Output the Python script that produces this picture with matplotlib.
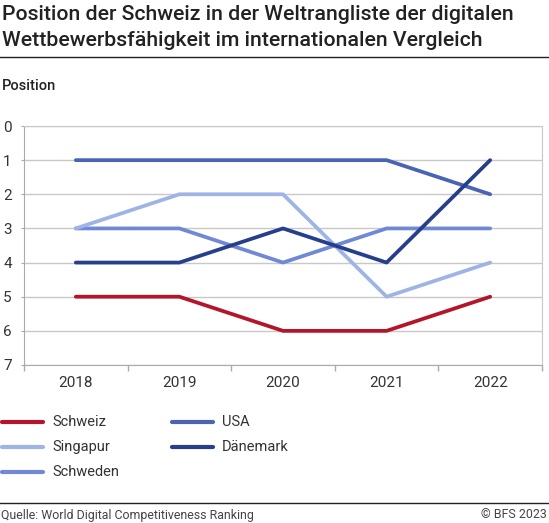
import matplotlib.pyplot as plt
from matplotlib.lines import Line2D

years = ["2018", "2019", "2020", "2021", "2022"]
schweiz = [5, 5, 6, 6, 5]
usa = [1, 1, 1, 1, 2]
singapur = [3, 2, 2, 5, 4]
daenemark = [4, 4, 3, 4, 1]
schweden = [3, 3, 4, 3, 3]

series = [
    ("Schweiz", schweiz, "#b5152b"),
    ("USA", usa, "#4a63b5"),
    ("Singapur", singapur, "#9fb4e6"),
    ("Dänemark", daenemark, "#263f8c"),
    ("Schweden", schweden, "#7088d6"),
]

plt.rcParams['font.family'] = ['Roboto', 'DejaVu Sans']

W, H = 549, 523
fig = plt.figure(figsize=(W / 100, H / 100), dpi=100)
ax = fig.add_axes([24 / W, 1 - 365 / H, (542 - 24) / W, (365 - 126) / H])

x = list(range(len(years)))
# draw in an order so that dark lines sit above light ones
order = ["Schweden", "Singapur", "USA", "Dänemark", "Schweiz"]
lookup = {name: (vals, col) for name, vals, col in series}
for name in order:
    vals, col = lookup[name]
    ax.plot(x, vals, color=col, linewidth=2.7, solid_capstyle='round', zorder=3)

ax.set_xlim(-0.5, len(years) - 0.5)
ax.set_ylim(7, 0)
ax.set_yticks(range(0, 8))
ax.set_xticks(x)
ax.set_xticklabels(years)
ax.set_xticks([i - 0.5 for i in range(len(years) + 1)], minor=True)
ax.tick_params(axis='x', which='major', length=0, pad=8, labelsize=11, labelcolor='#333333')
ax.tick_params(axis='x', which='minor', length=4, color='#aaaaaa', width=1)
ax.tick_params(axis='y', length=2, color='#aaaaaa', pad=13, labelsize=11, labelcolor='#333333')
for lbl in ax.get_yticklabels():
    lbl.set_horizontalalignment('left')
ax.grid(axis='y', color='#c8c8c8', linewidth=1, zorder=0)
for side in ['left', 'bottom']:
    ax.spines[side].set_color('#aaaaaa')
for side in ['right', 'top']:
    ax.spines[side].set_color('#c8c8c8')

# title, subtitle and footer
fig.text(2 / W, 1 - 15 / H, "Position der Schweiz in der Weltrangliste der digitalen",
         fontsize=15.3, fontweight='medium', color='#222222', va='center')
fig.text(2 / W, 1 - 41 / H, "Wettbewerbsfähigkeit im internationalen Vergleich",
         fontsize=15.3, fontweight='medium', color='#222222', va='center')
fig.add_artist(Line2D([0, 1], [1 - 57 / H, 1 - 57 / H], color='#222222', linewidth=1))
fig.text(2 / W, 1 - 86 / H, "Position", fontsize=10.5, fontweight='medium', color='#222222', va='center')

# legend
legend_pos = {
    "Schweiz": (2, 422), "Singapur": (2, 447), "Schweden": (2, 472),
    "USA": (172, 422), "Dänemark": (172, 447),
}
for name, vals, col in series:
    lx, ly = legend_pos[name]
    yy = 1 - ly / H
    fig.add_artist(Line2D([lx / W, (lx + 41) / W], [yy, yy], color=col,
                          linewidth=3, solid_capstyle='round'))
    fig.text((lx + 50) / W, yy, name, fontsize=10.5, color='#333333', va='center')

fig.add_artist(Line2D([0, 1], [1 - 503 / H, 1 - 503 / H], color='#222222', linewidth=1))
fig.text(1 / W, 1 - 515 / H, "Quelle: World Digital Competitiveness Ranking",
         fontsize=8.9, color='#444444', va='center')
fig.text(547 / W, 1 - 515 / H, "© BFS 2023", fontsize=8.9, color='#444444',
         va='center', ha='right')

fig.savefig("out.png", dpi=100)
